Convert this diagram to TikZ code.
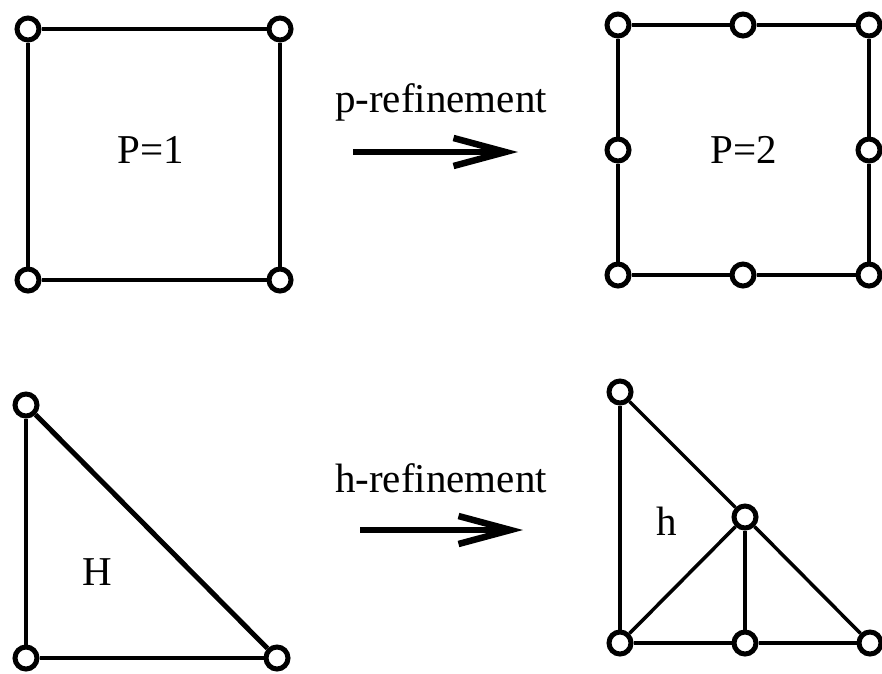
\documentclass[tikz,border=0pt]{standalone}
\usepackage{fontspec}
\setmainfont{Liberation Serif}
\usetikzlibrary{arrows.meta}
\begin{document}
\begin{tikzpicture}[x=1pt,y=-1pt,
  vtx/.style={circle,draw,fill=white,line width=5pt,minimum size=22pt,inner sep=0pt},
  edge/.style={line width=3.5pt},
  thickedge/.style={line width=5pt},
  lbl/.style={font=\fontsize{41}{48}\selectfont,anchor=base,inner sep=0pt},
  refarrow/.style={line width=6.5pt,-{Straight Barb[length=52pt,width=28pt]}}]
\useasboundingbox (0,0) rectangle (882,673);
% top-left square
\node[vtx] (a1) at (28,29) {};
\node[vtx] (a2) at (280,29) {};
\node[vtx] (a3) at (280,280) {};
\node[vtx] (a4) at (28,280) {};
\draw[edge] (a1) -- (a2);
\draw[edge] (a2) -- (a3);
\draw[edge] (a3) -- (a4);
\draw[edge] (a4) -- (a1);
\node[lbl] (p1) at (151,163) {P=1};
% top-right square
\node[vtx] (b1) at (618,25) {};
\node[vtx] (b2) at (743,25) {};
\node[vtx] (b3) at (869,25) {};
\node[vtx] (b4) at (869,150) {};
\node[vtx] (b5) at (869,275) {};
\node[vtx] (b6) at (743,275) {};
\node[vtx] (b7) at (618,275) {};
\node[vtx] (b8) at (618,150) {};
\draw[edge] (b1) -- (b2);
\draw[edge] (b2) -- (b3);
\draw[edge] (b3) -- (b4);
\draw[edge] (b4) -- (b5);
\draw[edge] (b5) -- (b6);
\draw[edge] (b6) -- (b7);
\draw[edge] (b7) -- (b8);
\draw[edge] (b8) -- (b1);
\node[lbl] (p2) at (744,163) {P=2};
% p-refinement arrow
\node[lbl] (pr) at (441,112) {p-refinement};
\coordinate (ps) at (353,152);
\coordinate (pe) at (518,152);
\draw[refarrow] (ps) -- (pe);
% bottom-left triangle
\node[vtx] (c1) at (26,405) {};
\node[vtx] (c2) at (26,658) {};
\node[vtx] (c3) at (277,658) {};
\draw[edge] (c1) -- (c2);
\draw[edge] (c2) -- (c3);
\draw[thickedge] (c3) -- (c1);
\node[lbl] (hH) at (97,585) {H};
% h-refinement arrow
\node[lbl] (hr) at (441,492) {h-refinement};
\coordinate (hs) at (360,530);
\coordinate (he) at (523,530);
\draw[refarrow] (hs) -- (he);
% bottom-right triangle
\node[vtx] (d1) at (620,392) {};
\node[vtx] (d2) at (620,643) {};
\node[vtx] (d3) at (745,643) {};
\node[vtx] (d4) at (870,643) {};
\node[vtx] (d5) at (745,517) {};
\draw[edge] (d1) -- (d2);
\draw[edge] (d2) -- (d3);
\draw[edge] (d3) -- (d4);
\draw[edge] (d4) -- (d5);
\draw[edge] (d5) -- (d1);
\draw[edge] (d2) -- (d5);
\draw[edge] (d5) -- (d3);
\node[lbl] (hh) at (667,535) {h};
\end{tikzpicture}
\end{document}
